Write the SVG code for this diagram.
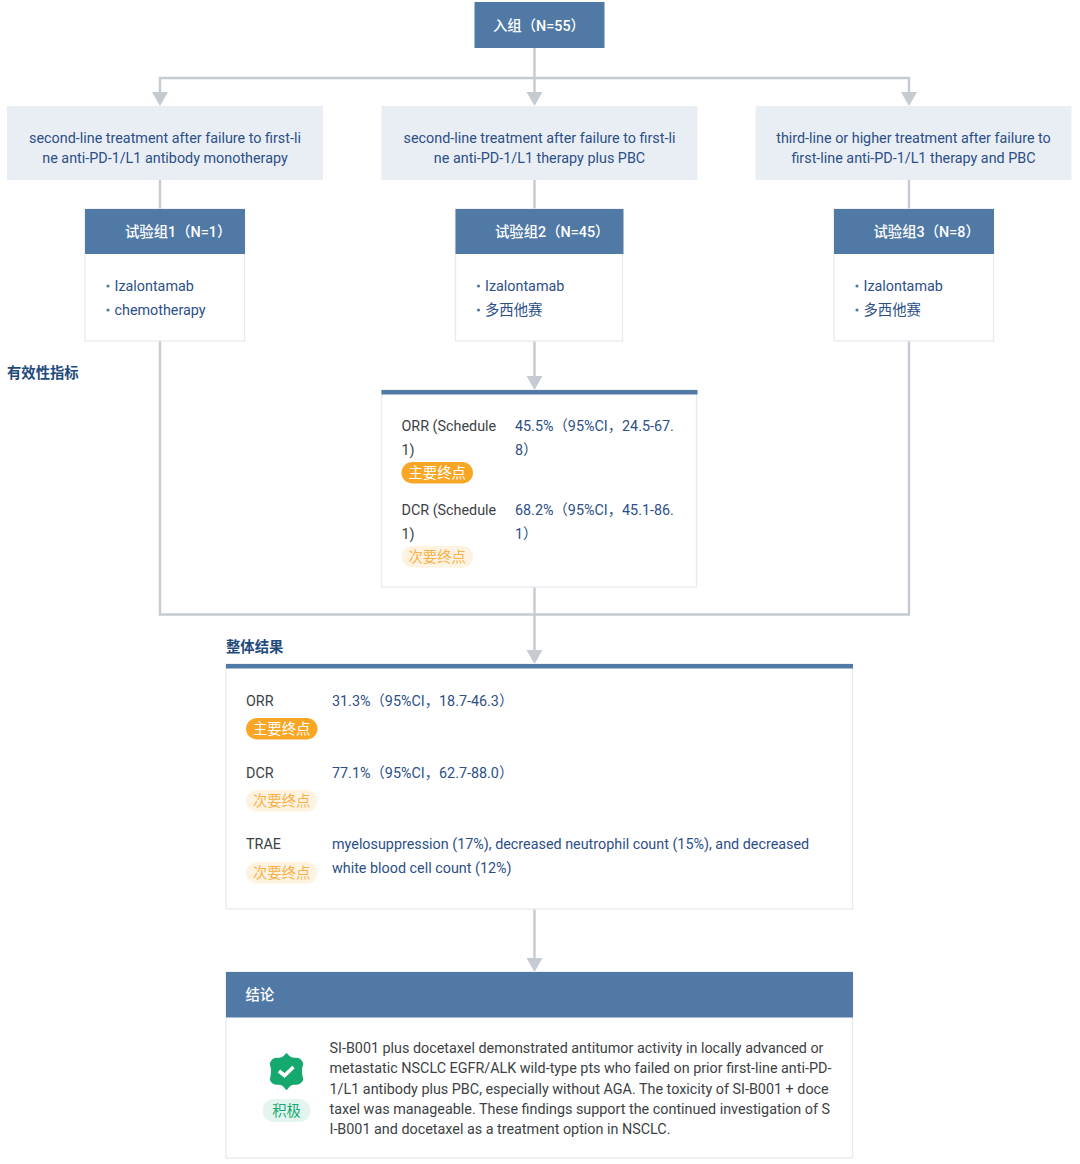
<svg xmlns="http://www.w3.org/2000/svg" width="1080" height="1164" viewBox="0 0 1080 1164">
<style>
text{font-family:Roboto,"Noto Sans CJK SC",sans-serif;font-size:14.35px}
.b{fill:#2c4f86}.d{fill:#3c3f44}.w{fill:#fff;font-weight:500}.m{text-anchor:middle}
.h{fill:#5079a6}.l{fill:#e9eef5}.c{fill:#fff;stroke:#e8eaee;stroke-width:1.3}
.t{fill:#1f4a7c;font-weight:700}
.p1{fill:#faa625}.p2{fill:#fef3e0}.tp1{fill:#fff}.tp2{fill:#f9b04a}
.conn{fill:none;stroke:#c6cad1;stroke-width:2.4}
.dot{fill:#5079a6}
</style>
<defs>
<path id="arr" d="M-8 -14H8L0 0Z" fill="#c6cad1"/>
</defs>
<g id="connectors">
<path class="conn" d="M534.500 47V93M160 93V78H909V93"/>
<path class="conn" d="M160 180V209M534.500 180V209M909 180V209"/>
<path class="conn" d="M160 341V614.500H909V341"/>
<path class="conn" d="M534.500 341V377M534.500 587V651M534.500 909V959"/>
<use href="#arr" x="160" y="106"/><use href="#arr" x="534.500" y="106"/><use href="#arr" x="909" y="106"/>
<use href="#arr" x="534.500" y="390"/><use href="#arr" x="534.500" y="664"/><use href="#arr" x="534.500" y="972"/>
</g>
<g id="enroll"><rect class="h" x="474.500" y="2" width="130" height="46"/><text class="w" x="493" y="31">入组（N=55）</text></g>
<g id="line1"><rect class="l" x="7" y="106" width="316" height="74"/><text class="b m" x="165" y="143">second-line treatment after failure to first-li</text><text class="b m" x="165" y="163">ne anti-PD-1/L1 antibody monotherapy</text></g>
<g id="line2"><rect class="l" x="381.500" y="106" width="316" height="74"/><text class="b m" x="539.500" y="143">second-line treatment after failure to first-li</text><text class="b m" x="539.500" y="163">ne anti-PD-1/L1 therapy plus PBC</text></g>
<g id="line3"><rect class="l" x="755.500" y="106" width="316" height="74"/><text class="b m" x="913.500" y="143">third-line or higher treatment after failure to</text><text class="b m" x="913.500" y="163">first-line anti-PD-1/L1 therapy and PBC</text></g>
<g id="arm1"><rect class="c" x="85" y="209" width="159.500" height="132"/><rect class="h" x="85" y="209" width="160" height="45"/><text class="w" x="125" y="237">试验组1（N=1）</text>
<circle class="dot" cx="108" cy="286" r="1.600"/><text class="b" x="114.500" y="291">Izalontamab</text><circle class="dot" cx="108" cy="310" r="1.600"/><text class="b" x="114.500" y="315">chemotherapy</text></g>
<g id="arm2"><rect class="c" x="455.500" y="209" width="167" height="132"/><rect class="h" x="455.500" y="209" width="168" height="45"/><text class="w" x="495" y="237">试验组2（N=45）</text>
<circle class="dot" cx="478.500" cy="286" r="1.600"/><text class="b" x="485" y="291">Izalontamab</text><circle class="dot" cx="478.500" cy="310" r="1.600"/><text class="b" x="485" y="315">多西他赛</text></g>
<g id="arm3"><rect class="c" x="834" y="209" width="159.500" height="132"/><rect class="h" x="834" y="209" width="160" height="45"/><text class="w" x="873.500" y="237">试验组3（N=8）</text>
<circle class="dot" cx="857" cy="286" r="1.600"/><text class="b" x="863.500" y="291">Izalontamab</text><circle class="dot" cx="857" cy="310" r="1.600"/><text class="b" x="863.500" y="315">多西他赛</text></g>
<g id="efficacy-title"><text class="t" x="7" y="378">有效性指标</text></g>
<g id="efficacy"><rect class="c" x="381.500" y="390" width="315" height="197"/><rect class="h" x="381.500" y="390" width="316" height="4.500"/>
<text class="d" x="401.500" y="431">ORR (Schedule</text><text class="d" x="401.500" y="455">1)</text>
<rect class="p1" x="401.500" y="462" width="71.500" height="21.500" rx="10.750"/><text class="tp1" x="408.500" y="478">主要终点</text>
<text class="b" x="515" y="431">45.5%（95%CI，24.5-67.</text><text class="b" x="515" y="455">8）</text>
<text class="d" x="401.500" y="515">DCR (Schedule</text><text class="d" x="401.500" y="539">1)</text>
<rect class="p2" x="401.500" y="546" width="71.500" height="21.500" rx="10.750"/><text class="tp2" x="408.500" y="562">次要终点</text>
<text class="b" x="515" y="515">68.2%（95%CI，45.1-86.</text><text class="b" x="515" y="539">1）</text></g>
<g id="overall-title"><text class="t" x="226" y="652">整体结果</text></g>
<g id="overall"><rect class="c" x="226" y="664" width="626.500" height="245"/><rect class="h" x="226" y="664" width="627" height="4.500"/>
<text class="d" x="246" y="706">ORR</text><rect class="p1" x="246" y="718" width="71.500" height="21.500" rx="10.750"/><text class="tp1" x="253" y="733.500">主要终点</text>
<text class="b" x="332" y="706">31.3%（95%CI，18.7-46.3）</text>
<text class="d" x="246" y="778">DCR</text><rect class="p2" x="246" y="790" width="71.500" height="21.500" rx="10.750"/><text class="tp2" x="253" y="805.500">次要终点</text>
<text class="b" x="332" y="778">77.1%（95%CI，62.7-88.0）</text>
<text class="d" x="246" y="849">TRAE</text><rect class="p2" x="246" y="862" width="71.500" height="21.500" rx="10.750"/><text class="tp2" x="253" y="877.500">次要终点</text>
<text class="b" x="332" y="849">myelosuppression (17%), decreased neutrophil count (15%), and decreased</text><text class="b" x="332" y="873">white blood cell count (12%)</text></g>
<g id="conclusion"><rect class="c" x="226" y="972" width="626.500" height="186"/><rect class="h" x="226" y="972" width="627" height="45.500"/><text class="w" x="245.500" y="1000">结论</text>
<path d="M286.500 1054.500Q290 1059.500 295 1059 Q300 1058.500 302 1063.500Q299.500 1071 302 1079.500Q300 1084 295 1083.500Q290 1083 286.500 1088.500Q283 1083 278 1083.500Q273 1084 271 1079.500Q273.500 1071 271 1063.500Q273 1058.500 278 1059Q283 1059.500 286.500 1054.500Z" fill="#15a86f" stroke="#15a86f" stroke-linejoin="round" stroke-width="2.500"/>
<path d="M279 1071l5.500 4.500 9-8.500" fill="none" stroke="#fff" stroke-width="3.600"/>
<rect x="262.500" y="1099" width="48" height="23" rx="11.500" fill="#e3f5ee"/><text class="m" x="286.500" y="1115.500" fill="#15a86f">积极</text>
<text class="d" x="329.500" y="1053">SI-B001 plus docetaxel demonstrated antitumor activity in locally advanced or</text>
<text class="d" x="329.500" y="1073">metastatic NSCLC EGFR/ALK wild-type pts who failed on prior first-line anti-PD-</text>
<text class="d" x="329.500" y="1093.500">1/L1 antibody plus PBC, especially without AGA. The toxicity of SI-B001 + doce</text>
<text class="d" x="329.500" y="1114">taxel was manageable. These findings support the continued investigation of S</text>
<text class="d" x="329.500" y="1134">I-B001 and docetaxel as a treatment option in NSCLC.</text></g>
</svg>
